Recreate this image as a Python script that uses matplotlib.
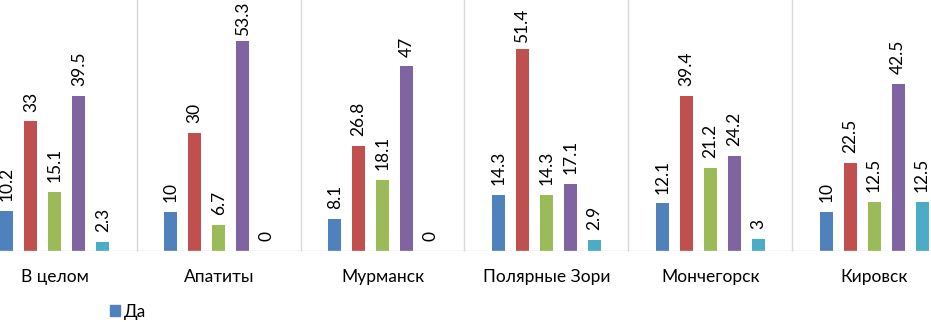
import numpy as np
import matplotlib.pyplot as plt
from matplotlib.patches import Patch

# данные по городам
cities = ['В целом', 'Апатиты', 'Мурманск', 'Полярные Зори', 'Мончегорск', 'Кировск']
series_names = ['Да', 'Скорее да', 'Скорее нет', 'Нет', 'Затрудняюсь ответить']
s1 = [10.2, 10, 8.1, 14.3, 12.1, 10]
s2 = [33, 30, 26.8, 51.4, 39.4, 22.5]
s3 = [15.1, 6.7, 18.1, 14.3, 21.2, 12.5]
s4 = [39.5, 53.3, 47, 17.1, 24.2, 42.5]
s5 = [2.3, 0, 0, 2.9, 3, 12.5]
colors = ['#4F81BD', '#C0504D', '#9BBB59', '#8064A2', '#4BACC6']

plt.rcParams['font.family'] = ['Lato', 'DejaVu Sans']

fig = plt.figure(figsize=(9.31, 3.22), dpi=100)
ax = fig.add_axes([-27 / 931, 71 / 322, 983 / 931, 0.7325])

x = np.arange(len(cities))
pitch = 24 / 164
width = 13 / 164
for i, vals in enumerate([s1, s2, s3, s4, s5]):
    pos = x + (i - 2) * pitch
    ax.bar(pos, vals, width, color=colors[i], label=series_names[i])
    for p, v in zip(pos, vals):
        off = 4 if v > 50 else 7
        ax.annotate(f'{v:g}', (p, v), xytext=(0, off), textcoords='offset points',
                    rotation=90, ha='center', va='bottom', fontsize=12.5, annotation_clip=False)

ax.set_xlim(-0.5, 5.5)
ax.set_ylim(0, 60)
ax.vlines(x[:-1] + 0.5, 0, 64, color='#D9D9D9', lw=1, clip_on=False)
ax.axhline(0, color='#D9D9D9', lw=1)
for s in ax.spines.values():
    s.set_visible(False)
ax.set_yticks([])
ax.set_xticks(x)
ax.set_xticklabels(cities, fontsize=12.5)
ax.tick_params(axis='x', length=0, pad=13)

fig.legend([Patch(color=colors[0])], ['Да'], loc='center left', frameon=False,
           bbox_to_anchor=(94 / 931, 10 / 322), fontsize=12.5,
           handlelength=0.6, handleheight=0.6, handletextpad=0.2)

fig.savefig('out.png', dpi=100)
